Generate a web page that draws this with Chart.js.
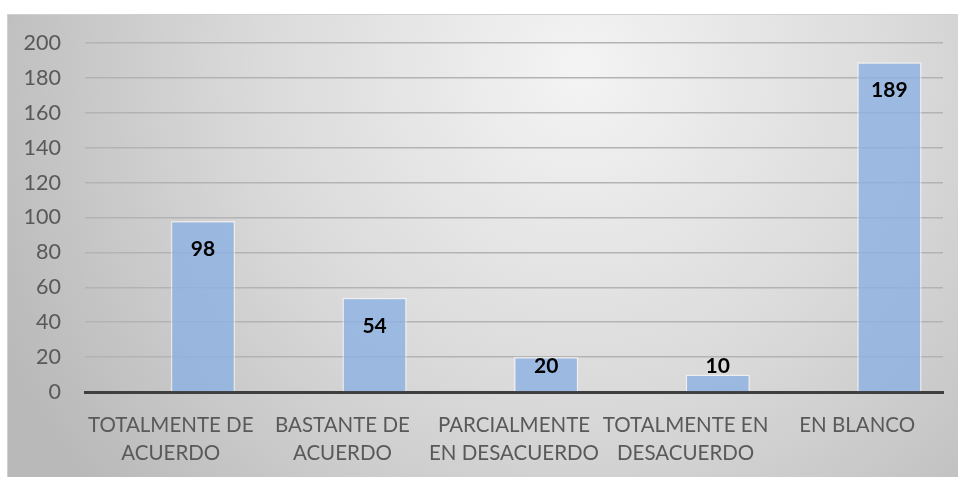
<!DOCTYPE html>
<html>
<head>
<meta charset="utf-8">
<script src="https://cdn.jsdelivr.net/npm/chart.js@4/dist/chart.umd.min.js"></script>
<style>
  html, body { margin: 0; padding: 0; background: #fff; }
  #wrap { width: 958px; height: 477px; position: relative; }
</style>
</head>
<body>
<div id="wrap"><canvas id="grafico"></canvas></div>
<script>
const categorias = [
  ['TOTALMENTE DE', 'ACUERDO'],
  ['BASTANTE DE', 'ACUERDO'],
  ['PARCIALMENTE', 'EN DESACUERDO'],
  ['TOTALMENTE EN', 'DESACUERDO'],
  ['EN BLANCO']
]
const respuestas = [98, 54, 20, 10, 189]
const vacio = [null, null, null, null, null]
const ticksY = [0, 20, 40, 60, 80, 100, 120, 140, 160, 180, 200]

const fuente = 'Lato, "Open Sans", sans-serif'

// fondo degradado como el de Excel
const fondo = {
  id: 'fondo',
  beforeDraw(chart) {
    const ctx = chart.ctx
    const x0 = 7, y0 = 14, w = chart.width - x0, h = chart.height - y0
    ctx.save()
    const g = ctx.createRadialGradient(580, 70, 10, 580, 70, 640)
    g.addColorStop(0, '#f3f3f3')
    g.addColorStop(0.5, '#dadada')
    g.addColorStop(1, '#b9b9b9')
    ctx.fillStyle = g
    ctx.fillRect(x0, y0, w, h)
    ctx.strokeStyle = '#d0d0d0'
    ctx.lineWidth = 1
    ctx.strokeRect(x0 + 0.5, y0 + 0.5, w, h)
    ctx.restore()
  }
}

// etiquetas de valor dentro de las barras
const etiquetas = {
  id: 'etiquetas',
  afterDatasetsDraw(chart) {
    const ctx = chart.ctx
    const meta = chart.getDatasetMeta(1)
    ctx.save()
    ctx.font = 'bold 21px ' + fuente
    ctx.fillStyle = '#000'
    ctx.textAlign = 'center'
    ctx.textBaseline = 'middle'
    meta.data.forEach((bar, i) => {
      const y = Math.min(bar.y + 28, bar.base - 25)
      ctx.fillText(respuestas[i], bar.x, y)
    })
    ctx.restore()
  }
}

new Chart(document.getElementById('grafico'), {
  type: 'bar',
  data: {
    labels: categorias,
    datasets: [{
      label: '',
      data: vacio
    }, {
      label: 'Respuestas',
      data: respuestas,
      backgroundColor: 'rgba(140,178,226,0.8)',
      borderColor: 'rgba(255,255,255,0.55)',
      borderWidth: 1.5
    }]
  },
  options: {
    responsive: true,
    maintainAspectRatio: false,
    animation: false,
    categoryPercentage: 0.75,
    barPercentage: 1,
    layout: { padding: { top: 43, right: 15, left: 0, bottom: 0 } },
    plugins: {
      legend: { display: false },
      tooltip: { enabled: false }
    },
    scales: {
      x: {
        grid: { display: false },
        border: { display: true, color: '#3f3f3f', width: 3 },
        ticks: {
          color: '#595959',
          font: { family: fuente, size: 20.5, lineHeight: 1.33 },
          padding: 12,
          maxRotation: 0,
          autoSkip: false
        },
        afterFit(scale) { scale.height = 85 }
      },
      y: {
        min: 0,
        max: 200,
        afterBuildTicks(scale) { scale.ticks = ticksY.map(v => ({ value: v })) },
        grid: { color: '#b3b3b3', lineWidth: 1.5, drawTicks: false },
        border: { display: false },
        ticks: {
          color: '#595959',
          font: { family: fuente, size: 21.5 },
          padding: 24
        },
        afterFit(scale) { scale.width = 85 }
      }
    }
  },
  plugins: [fondo, etiquetas]
})
</script>
</body>
</html>
